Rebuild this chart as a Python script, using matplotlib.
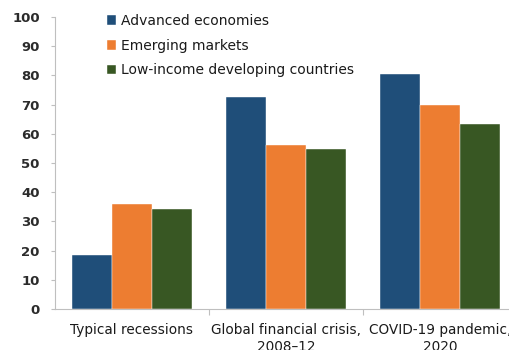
import matplotlib
matplotlib.use("Agg")
import matplotlib.pyplot as plt
import numpy as np

categories = ["Typical recessions", "Global financial crisis,\n2008\u201312", "COVID-19 pandemic,\n2020"]
series_names = ["Advanced economies", "Emerging markets", "Low-income developing countries"]
advanced = [18.5, 72.5, 80.5]
emerging = [35.8, 56.0, 70.0]
low_income = [34.2, 54.8, 63.3]
yticks = [0, 10, 20, 30, 40, 50, 60, 70, 80, 90, 100]

colors = ["#1F4E79", "#ED7D31", "#385723"]
series = [advanced, emerging, low_income]

plt.rcParams["font.family"] = ["DejaVu Sans"]

fig = plt.figure(figsize=(5.09, 3.5), dpi=100)
ax = fig.add_axes([55 / 509, 41 / 350, 462 / 509, 292 / 350])

x = np.arange(len(categories))
w = 0.26
for i, (vals, name, c) in enumerate(zip(series, series_names, colors)):
    ax.bar(x + (i - 1) * w, vals, width=w, color=c, label=name,
           edgecolor="white", linewidth=0.3)

ax.set_xlim(-0.5, 2.5)
ax.set_ylim(0, 100)
ax.set_yticks(yticks)
ax.tick_params(axis="y", labelsize=9.5, colors="#333333", length=3, width=0.8,
               pad=8, color="#BFBFBF")
for lab in ax.get_yticklabels():
    lab.set_fontweight("bold")
    lab.set_color("#2b2b2b")

ax.set_xticks(x)
ax.set_xticklabels(categories, fontsize=9.8, color="#1a1a1a", linespacing=1.3)
ax.tick_params(axis="x", length=0, pad=10)
ax.set_xticks([0.5, 1.5], minor=True)
ax.tick_params(axis="x", which="minor", length=4, color="#BFBFBF", width=0.8)

for s in ["top", "right"]:
    ax.spines[s].set_visible(False)
for s in ["left", "bottom"]:
    ax.spines[s].set_color("#BFBFBF")
    ax.spines[s].set_linewidth(0.8)

leg = ax.legend(loc="upper left", bbox_to_anchor=(0.10, 1.03), frameon=False,
                fontsize=10, handlelength=0.7, handleheight=0.7,
                handletextpad=0.3, labelspacing=0.78, borderaxespad=0)
for t in leg.get_texts():
    t.set_color("#1a1a1a")

fig.savefig("out.png", dpi=100)
